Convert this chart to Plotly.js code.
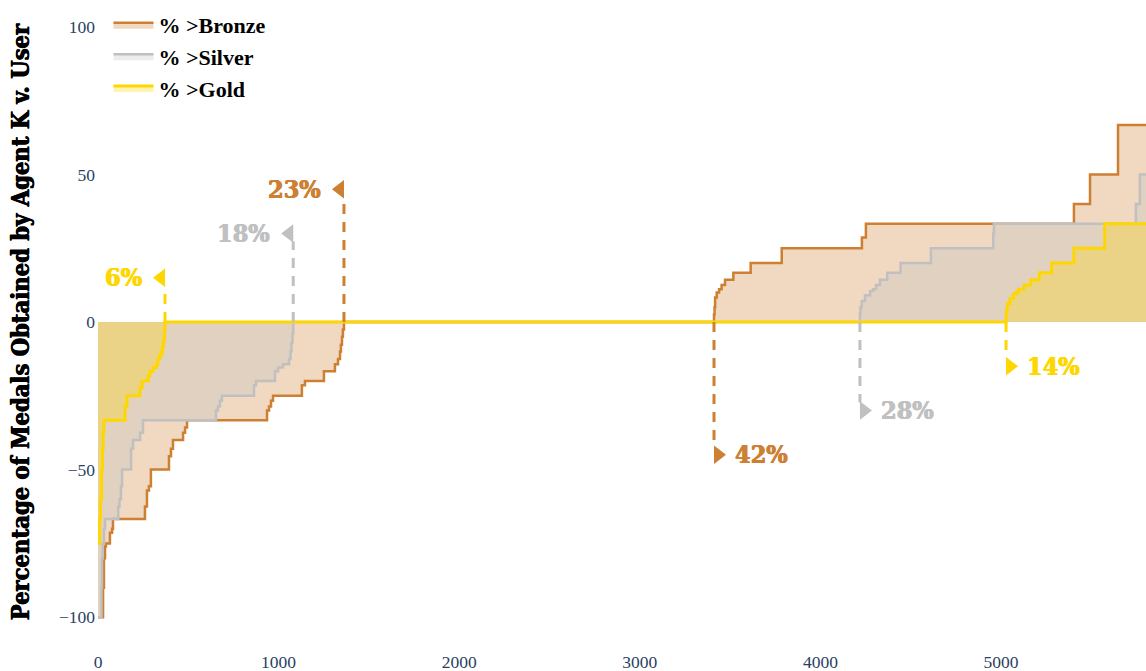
<!DOCTYPE html>
<html><head><meta charset="utf-8">
<script src="https://cdn.plot.ly/plotly-3.0.1.min.js"></script>
<style>html,body{margin:0;padding:0;background:#fff}#chart{width:1146px;height:671px}</style>
</head><body><div id="chart"></div>
<script>
// Users sorted by score difference (x = user rank), y = % of medals Agent K obtained vs user
const bronzeX = [0, 28, 33, 39, 44, 66, 78, 83, 260, 271, 282, 293, 393, 404, 415, 471, 482, 493, 936, 947, 958, 969, 1129, 1146, 1251, 1312, 1329, 1340, 1345, 1351, 1356, 1362, 3411, 3414, 3417, 3426, 3439, 3453, 3472, 3518, 3614, 3786, 4230, 4252, 5404, 5493, 5648, 5803];
const bronzeY = [-100, -90, -80, -76, -75, -71.4, -70, -66.7, -62.5, -57.1, -55.6, -50, -45.5, -42.9, -40, -37.5, -35.7, -33.3, -30, -28.6, -26.7, -25, -21.4, -20, -16.7, -14.3, -12.5, -10, -7.7, -5, -2.5, 0, 2.5, 5, 8.3, 10, 11.1, 12.5, 14.3, 16.7, 20, 25, 28.6, 33.3, 40, 50, 66.7, 66.7];

const silverX = [0, 19, 22, 26, 33, 39, 112, 119, 127, 133, 183, 194, 233, 249, 653, 664, 675, 686, 864, 875, 980, 997, 1024, 1058, 1066, 1071, 1077, 1081, 4219, 4222, 4229, 4247, 4275, 4292, 4308, 4330, 4370, 4444, 4612, 4957, 4961, 5747, 5769, 5803];
const silverY = [-100, -90, -80, -75, -70, -66.7, -62.5, -60, -55.6, -50, -42.9, -40, -37.5, -33.3, -30, -28.6, -26.7, -25, -21.4, -20, -16.7, -15.4, -14.3, -12.5, -10, -7.1, -4, 0, 3, 5, 7.1, 9.1, 10.5, 11.1, 12.5, 14.3, 16.7, 20, 25, 30, 33.3, 40, 50, 50];

const goldX = [0, 9, 14, 20, 25, 29, 33, 150, 161, 233, 244, 279, 288, 305, 325, 332, 343, 353, 357, 363, 368, 371, 5028, 5030, 5035, 5050, 5068, 5083, 5096, 5127, 5164, 5212, 5280, 5404, 5574, 5803];
const goldY = [-75, -66.7, -60, -50, -42.9, -37.5, -33.3, -28.6, -25, -22.2, -20, -18.2, -16.7, -15.4, -14.3, -12.5, -11.1, -10, -8.3, -6.3, -3, 0, 2, 4, 6.3, 8, 9.5, 10, 11.1, 12.5, 14.3, 16.7, 20, 25, 33.3, 33.3];

const seriesNames = ['% >Bronze', '% >Silver', '% >Gold'];

// zero-crossing callouts: x where series crosses zero, arrow end, label
const markX = [371, 1081, 1362, 3411, 4219, 5028];
const markEnd = [15, 30, 45, -45, -30, -15];
const markText = ['6%', '18%', '23%', '42%', '28%', '14%'];
const markMedal = ['gold', 'silver', 'bronze', 'bronze', 'silver', 'gold'];

const lineCol = {bronze: '#CD7F32', silver: '#C0C0C0', gold: '#FFD700'};
const fillCol = {bronze: 'rgba(205,127,50,0.3)', silver: 'rgba(192,192,192,0.3)', gold: 'rgba(255,215,0,0.3)'};

const X_MAX = 5803, Y_MIN = -105, Y_MAX = 105;
const M = {l: 98, r: 0, t: 12, b: 39}, W = 1146, H = 671;
const pxX = X_MAX / (W - M.l - M.r);          // data units per pixel (x)
const pxY = (Y_MAX - Y_MIN) / (H - M.t - M.b); // data units per pixel (y)
const TRI = 16;                                // triangle marker size (px)

function area(x, y, name, key, w) {
  return {x: x, y: y, name: name, type: 'scatter', mode: 'lines', fill: 'tozeroy',
    fillcolor: fillCol[key], line: {color: lineCol[key], width: w, shape: 'hv'}, hoverinfo: 'skip'};
}
const traces = [
  area(bronzeX, bronzeY, seriesNames[0], 'bronze', 2.5),
  area(silverX, silverY, seriesNames[1], 'silver', 2.5),
  area(goldX, goldY, seriesNames[2], 'gold', 3)
];
const annotations = [];
markX.forEach((mx, i) => {
  const up = markEnd[i] > 0;
  const c = lineCol[markMedal[i]];
  const sgn = up ? 1 : -1;
  // dashed stem, stopping at the triangle's lower/upper edge
  traces.push({
    x: [mx, mx], y: [0, markEnd[i] - sgn * 8 * pxY], type: 'scatter', mode: 'lines', showlegend: false,
    line: {color: c, width: 3, dash: '10px,8px'}, hoverinfo: 'skip', cliponaxis: false
  });
  // triangle head, flat side on the stem
  traces.push({
    x: [mx - sgn * (TRI / 4) * pxX], y: [markEnd[i]], type: 'scatter', mode: 'markers', showlegend: false,
    marker: {size: TRI, color: c, opacity: 1, symbol: up ? 'triangle-left' : 'triangle-right'},
    hoverinfo: 'skip', cliponaxis: false
  });
  annotations.push({
    x: mx, y: markEnd[i], xref: 'x', yref: 'y', text: markText[i], showarrow: false,
    xanchor: up ? 'right' : 'left', yanchor: 'middle', xshift: up ? -21 : 19,
    font: {family: 'DejaVu Serif Condensed', size: 25, weight: 'bold', color: c,
      shadow: '0.5px 0 0 ' + c + ', -0.5px 0 0 ' + c}
  });
});

const layout = {
  width: W, height: H,
  margin: M,
  paper_bgcolor: '#fff', plot_bgcolor: '#fff',
  font: {family: 'Liberation Serif', size: 17, color: '#2a3f5f'},
  showlegend: true,
  annotations: annotations,
  legend: {x: 0.01, y: 1.013, xanchor: 'left', yanchor: 'top', bgcolor: 'rgba(0,0,0,0)', itemwidth: 40,
    font: {family: 'Liberation Serif', size: 22, weight: 'bold', color: '#000'}},
  xaxis: {range: [0, X_MAX], dtick: 1000, showgrid: false, zeroline: false, showline: false, ticks: '',
    ticklabelstandoff: 17,
    tickfont: {family: 'Liberation Serif', size: 17.5, color: '#2a3f5f'}},
  yaxis: {range: [Y_MIN, Y_MAX], tickvals: [-100, -50, 0, 50, 100], showgrid: false, zeroline: false, showline: false, ticks: '',
    ticklabelstandoff: 2,
    tickfont: {family: 'Liberation Serif', size: 17.5, color: '#2a3f5f'},
    title: {text: 'Percentage of Medals Obtained by Agent K v. User', standoff: 22,
      font: {family: 'DejaVu Serif Condensed', size: 23.5, weight: 'bold', color: '#000',
        shadow: '0.5px 0 0 #000, -0.5px 0 0 #000'}}}
};
Plotly.newPlot('chart', traces, layout, {displayModeBar: false, staticPlot: true});
</script>
</body></html>
